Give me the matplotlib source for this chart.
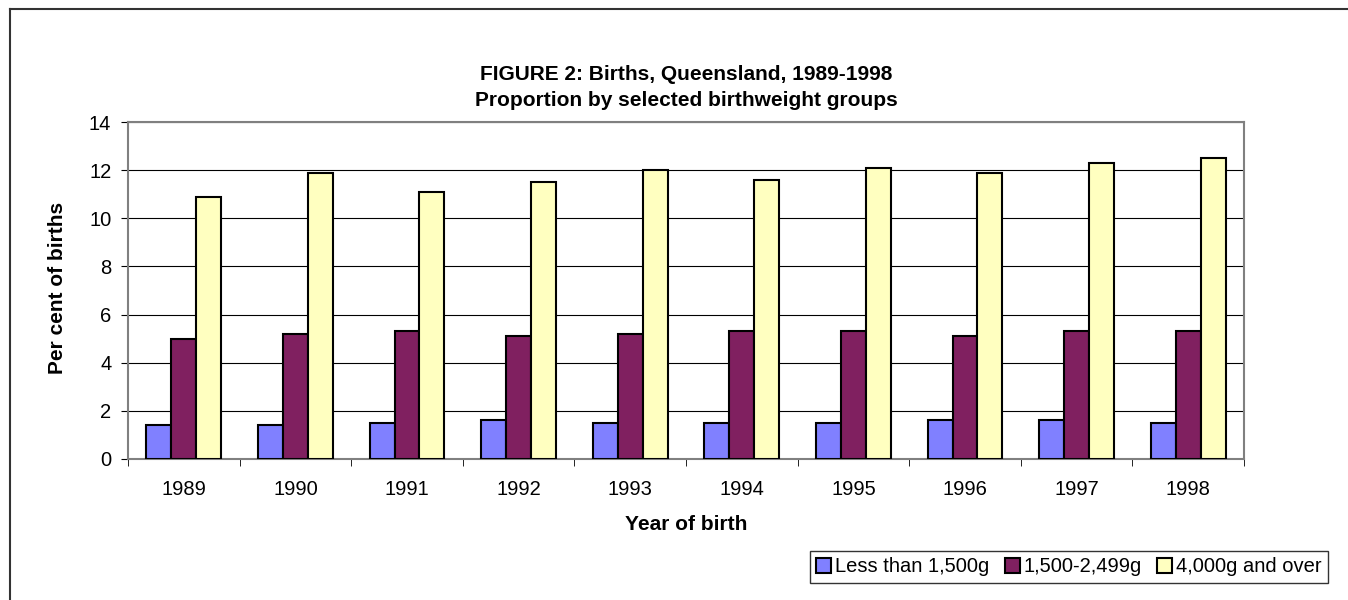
import numpy as np
import matplotlib.pyplot as plt
from matplotlib.lines import Line2D

plt.rcParams["font.family"] = ["Liberation Sans", "DejaVu Sans"]

years = ["1989", "1990", "1991", "1992", "1993", "1994", "1995", "1996", "1997", "1998"]
less_1500 = [1.4, 1.4, 1.5, 1.6, 1.5, 1.5, 1.5, 1.6, 1.6, 1.5]
mid_1500_2499 = [5.0, 5.2, 5.3, 5.1, 5.2, 5.3, 5.3, 5.1, 5.3, 5.3]
over_4000 = [10.9, 11.9, 11.1, 11.5, 12.0, 11.6, 12.1, 11.9, 12.3, 12.5]

series = [
    ("Less than 1,500g", less_1500, "#8080ff"),
    ("1,500-2,499g", mid_1500_2499, "#802060"),
    ("4,000g and over", over_4000, "#ffffc0"),
]

W, H = 1348, 600
fig = plt.figure(figsize=(W / 100, H / 100), dpi=100)
ax = fig.add_axes([128 / W, 1 - 459 / H, (1244 - 128) / W, (459 - 122) / H])

x = np.arange(len(years))
bw = 0.224
for i, (name, vals, col) in enumerate(series):
    ax.bar(x + (i - 1) * bw, vals, bw, color=col, edgecolor="black",
           linewidth=1.5, label=name, zorder=3)

ax.set_xlim(-0.5, len(years) - 0.5)
ax.set_ylim(0, 14)
ax.set_yticks(range(0, 15, 2))
ax.yaxis.grid(True, color="black", linewidth=0.8, zorder=0)
ax.set_xticks(x)
ax.set_xticklabels(years, fontsize=14.5)
ax.tick_params(axis="x", length=0, pad=15)
ax.set_xticks(np.arange(-0.5, len(years)), minor=True)
ax.tick_params(axis="x", which="minor", length=5, color="black", direction="out")
ax.tick_params(axis="y", labelsize=14.5, length=5, color="black", pad=7)
for side in ax.spines:
    ax.spines[side].set_color("#808080")
    ax.spines[side].set_linewidth(1.5)

fig.text(686 / W, 1 - 525 / H, "Year of birth", ha="center", va="center",
         fontsize=15, fontweight="bold")
fig.text(58 / W, 1 - 288 / H, "Per cent of births", ha="center", va="center",
         rotation=90, fontsize=15, fontweight="bold")

fig.text(686 / W, 1 - 75 / H, "FIGURE 2: Births, Queensland, 1989-1998",
         ha="center", va="center", fontsize=15, fontweight="bold")
fig.text(686 / W, 1 - 100 / H, "Proportion by selected birthweight groups",
         ha="center", va="center", fontsize=15, fontweight="bold")

leg = fig.legend(loc="center", bbox_to_anchor=(1069 / W, 1 - 567 / H), ncol=3,
                 fontsize=14.5, frameon=True, fancybox=False, handlelength=0.75,
                 handleheight=0.75, handletextpad=0.2, columnspacing=0.75,
                 borderpad=0.3, borderaxespad=0)
leg.get_frame().set_edgecolor("black")
leg.get_frame().set_linewidth(1.0)

# outer frame: only top and left edges are visible in the original
fig.add_artist(Line2D([10 / W, 1], [1 - 9 / H, 1 - 9 / H], transform=fig.transFigure,
                      color="#333333", linewidth=1.5))
fig.add_artist(Line2D([10 / W, 10 / W], [0, 1 - 9 / H], transform=fig.transFigure,
                      color="#333333", linewidth=1.5))

fig.savefig("out.png", dpi=100)
